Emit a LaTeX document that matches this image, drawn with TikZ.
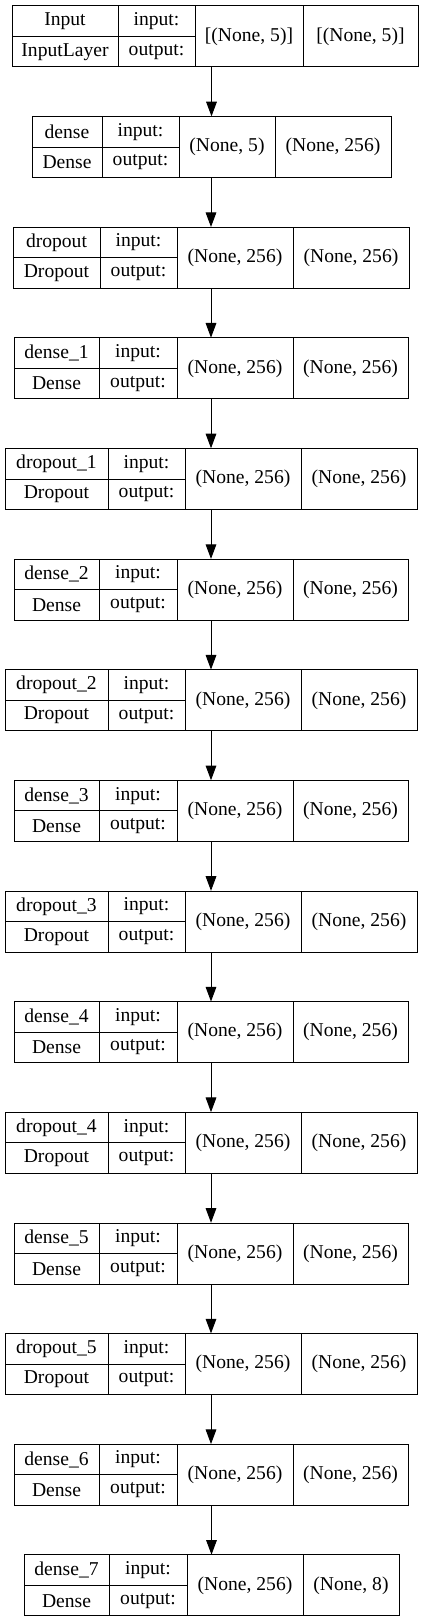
\documentclass[tikz,border=0pt]{standalone}
\usepackage{fontspec}
\setmainfont{Liberation Serif}
\usetikzlibrary{arrows.meta}
\tikzset{
    cell/.style = {draw, rectangle, inner sep=0pt, line width=0.75pt,
        font=\fontsize{14.7}{16}\selectfont},
    frame/.style = {rectangle, inner sep=0pt},
    arrow/.style = {draw, line width=0.75pt, -{Triangle[length=11pt,width=8pt]}}
}
\begin{document}
\begin{tikzpicture}[x=0.75pt, y=-0.75pt]
    \useasboundingbox (0,0) rectangle (423,1623);
    % one record per layer: index / cell borders / name / class / shapes
    \foreach \i/\xa/\xb/\xc/\xd/\xe/\lname/\lclass/\lin/\lout in {
        0/12/118/195/303/418/Input/InputLayer/{[(None, 5)]}/{[(None, 5)]},
        1/32/102/179/275/391/dense/Dense/{(None, 5)}/{(None, 256)},
        2/13/100/177/293/409/dropout/Dropout/{(None, 256)}/{(None, 256)},
        3/14/99/177/293/408/dense\_1/Dense/{(None, 256)}/{(None, 256)},
        4/5/108/185/301/417/dropout\_1/Dropout/{(None, 256)}/{(None, 256)},
        5/14/99/177/293/408/dense\_2/Dense/{(None, 256)}/{(None, 256)},
        6/5/108/185/301/417/dropout\_2/Dropout/{(None, 256)}/{(None, 256)},
        7/14/99/177/293/408/dense\_3/Dense/{(None, 256)}/{(None, 256)},
        8/5/108/185/301/417/dropout\_3/Dropout/{(None, 256)}/{(None, 256)},
        9/14/99/177/293/408/dense\_4/Dense/{(None, 256)}/{(None, 256)},
        10/5/108/185/301/417/dropout\_4/Dropout/{(None, 256)}/{(None, 256)},
        11/14/99/177/293/408/dense\_5/Dense/{(None, 256)}/{(None, 256)},
        12/5/108/185/301/417/dropout\_5/Dropout/{(None, 256)}/{(None, 256)},
        13/14/99/177/293/408/dense\_6/Dense/{(None, 256)}/{(None, 256)},
        14/24/109/187/303/399/dense\_7/Dense/{(None, 256)}/{(None, 8)}
    }{
        \pgfmathsetmacro\ytop{6+\i*110.64}
        \pgfmathsetmacro\wname{(\xb-\xa)*0.75}
        \pgfmathsetmacro\wport{(\xc-\xb)*0.75}
        \pgfmathsetmacro\win{(\xd-\xc)*0.75}
        \pgfmathsetmacro\wout{(\xe-\xd)*0.75}
        \pgfmathsetmacro\wall{(\xe-\xa)*0.75}
        \node [frame, minimum width=\wall pt, minimum height=45.75pt] (f\i)
            at ({(\xa+\xe)/2},{\ytop+30.5}) {};
        \node [cell, minimum width=\wname pt, minimum height=22.875pt] (n\i)
            at ({(\xa+\xb)/2},{\ytop+15.25}) {\lname};
        \node [cell, minimum width=\wname pt, minimum height=22.875pt] (c\i)
            at ({(\xa+\xb)/2},{\ytop+45.75}) {\lclass};
        \node [cell, minimum width=\wport pt, minimum height=22.875pt] (pi\i)
            at ({(\xb+\xc)/2},{\ytop+15.25}) {input:};
        \node [cell, minimum width=\wport pt, minimum height=22.875pt] (po\i)
            at ({(\xb+\xc)/2},{\ytop+45.75}) {output:};
        \node [cell, minimum width=\win pt, minimum height=45.75pt] (s\i)
            at ({(\xc+\xd)/2},{\ytop+30.5}) {\lin};
        \node [cell, minimum width=\wout pt, minimum height=45.75pt] (o\i)
            at ({(\xd+\xe)/2},{\ytop+30.5}) {\lout};
    }
    % connectors
    \foreach \i in {1,...,14}{
        \pgfmathtruncatemacro\j{\i-1}
        \draw [arrow] (f\i.north |- f\j.south) -- (f\i.north);
    }
\end{tikzpicture}
\end{document}
